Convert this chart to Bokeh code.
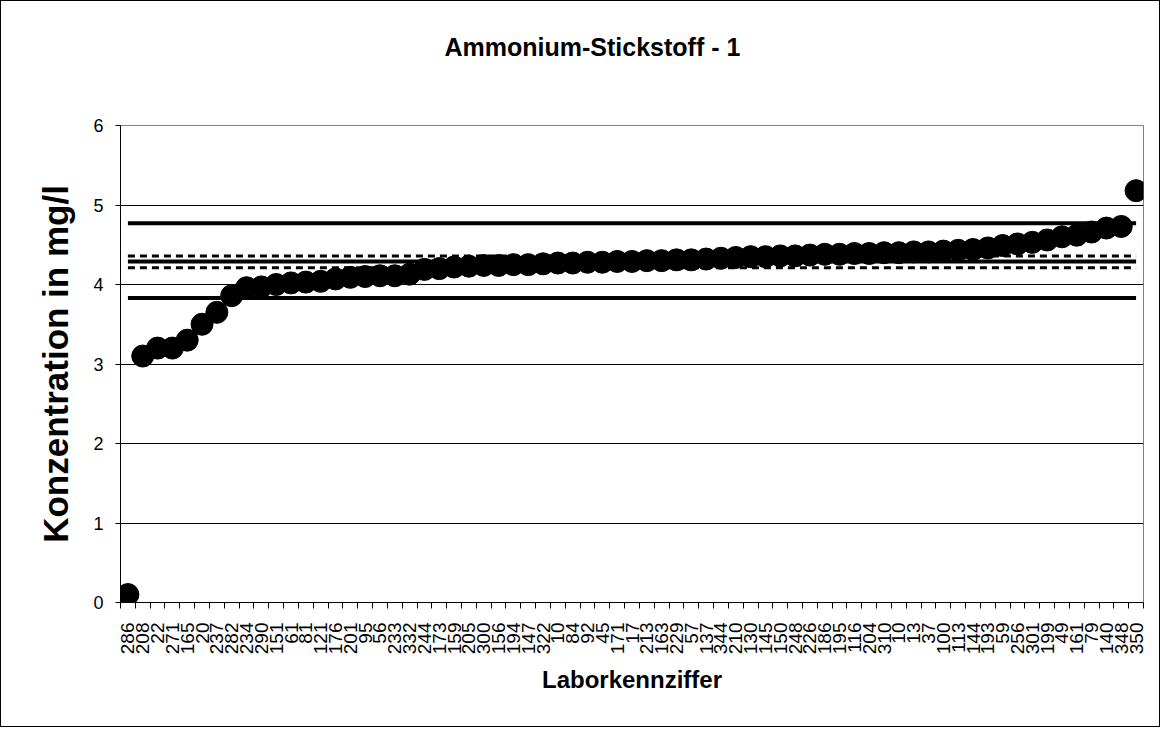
import math
from bokeh.plotting import figure
from bokeh.models import FixedTicker, Range1d, ColumnDataSource, Title
from bokeh.embed import file_html
from bokeh.resources import INLINE

# ---- data -------------------------------------------------------------
labs = ["286", "208", "22", "271", "165", "20", "237", "282", "234", "290",
        "151", "61", "81", "121", "176", "201", "95", "56", "233", "332",
        "244", "173", "159", "205", "300", "156", "194", "147", "322", "10",
        "84", "92", "45", "171", "17", "213", "163", "229", "57", "137",
        "344", "210", "130", "145", "150", "248", "226", "186", "195",
        "116", "204", "310", "10", "13", "37", "100", "113", "144", "193",
        "59", "256", "301", "199", "49", "161", "79", "140", "348", "350"]
values = [0.10, 3.10, 3.20, 3.20, 3.30, 3.50, 3.65, 3.86, 3.96, 3.97,
          4.00, 4.02, 4.03, 4.04, 4.07, 4.09, 4.10, 4.11, 4.11, 4.13,
          4.19, 4.20, 4.22, 4.23, 4.24, 4.24, 4.25, 4.25, 4.26, 4.27,
          4.27, 4.28, 4.28, 4.29, 4.29, 4.30, 4.30, 4.31, 4.31, 4.32,
          4.33, 4.34, 4.35, 4.35, 4.36, 4.36, 4.37, 4.38, 4.38, 4.39,
          4.39, 4.40, 4.40, 4.41, 4.41, 4.42, 4.43, 4.44, 4.46, 4.49,
          4.51, 4.53, 4.56, 4.60, 4.62, 4.66, 4.71, 4.73, 5.18]
upper_limit = 4.77
lower_limit = 3.83
mean_value = 4.29
mean_upper = 4.36
mean_lower = 4.21
y_ticks = [0, 1, 2, 3, 4, 5, 6]
title_text = "Ammonium-Stickstoff - 1"

n = len(values)
xs = [i + 0.5 for i in range(n)]
tick_map = {x: l for x, l in zip(xs, labs)}

FONT = "Liberation Sans"

p = figure(width=1160, height=727, output_backend="svg", toolbar_location=None,
           x_range=Range1d(0, n), y_range=Range1d(0, 6),
           min_border_left=119, min_border_right=18,
           min_border_top=124, min_border_bottom=126)
p.styles = {"border": "1px solid black"}
p.background_fill_color = "white"
p.border_fill_color = "white"
p.outline_line_color = "#808080"
p.outline_line_width = 1

# real title (outer), spacer title stacked next to the frame
p.title.text = title_text
p.title.text_font = FONT
p.title.text_font_size = "25px"
p.title.text_font_style = "bold"
p.title.text_color = "black"
p.title.align = "left"
p.title.offset = 324
p.title.standoff = 0
p.add_layout(Title(text=" ", text_font_size="1px", standoff=62), "above")

# grid
p.xgrid.visible = False
p.ygrid.grid_line_color = "black"
p.ygrid.grid_line_width = 1
p.ygrid.ticker = FixedTicker(ticks=y_ticks)

# y axis
p.yaxis.ticker = FixedTicker(ticks=y_ticks)
p.yaxis.axis_line_color = "black"
p.yaxis.major_tick_line_color = "black"
p.yaxis.major_tick_out = 5
p.yaxis.major_tick_in = 0
p.yaxis.minor_tick_line_color = None
p.yaxis.major_label_text_font = FONT
p.yaxis.major_label_text_font_size = "18px"
p.yaxis.major_label_text_color = "black"
p.yaxis.major_label_standoff = 12
p.yaxis.axis_label = "Konzentration in mg/l"
p.yaxis.axis_label_text_font = FONT
p.yaxis.axis_label_text_font_size = "35px"
p.yaxis.axis_label_text_font_style = "bold"
p.yaxis.axis_label_text_color = "black"
p.yaxis.axis_label_standoff = 15

# x axis
p.xaxis.ticker = FixedTicker(ticks=xs, minor_ticks=list(range(n + 1)))
p.xaxis.major_label_overrides = tick_map
p.xaxis.major_label_orientation = math.pi / 2
p.xaxis.axis_line_color = "black"
p.xaxis.major_tick_out = 0
p.xaxis.major_tick_in = 0
p.xaxis.minor_tick_out = 6
p.xaxis.minor_tick_in = 0
p.xaxis.minor_tick_line_color = "black"
p.xaxis.major_label_text_font = FONT
p.xaxis.major_label_text_font_size = "19px"
p.xaxis.major_label_text_color = "black"
p.xaxis.major_label_standoff = 14
p.xaxis.axis_label = "Laborkennziffer"
p.xaxis.axis_label_text_font = FONT
p.xaxis.axis_label_text_font_size = "24px"
p.xaxis.axis_label_text_font_style = "bold"
p.xaxis.axis_label_text_color = "black"
p.xaxis.axis_label_standoff = 9

# reference lines
x_ends = [xs[0], xs[-1]]
p.line(x_ends, [upper_limit] * 2, line_color="black", line_width=4)
p.line(x_ends, [lower_limit] * 2, line_color="black", line_width=4)
p.line(x_ends, [mean_value] * 2, line_color="black", line_width=4)
p.line(x_ends, [mean_upper] * 2, line_color="black", line_width=3, line_dash="7 5")
p.line(x_ends, [mean_lower] * 2, line_color="black", line_width=3, line_dash="7 5")

src = ColumnDataSource(dict(x=xs, y=values, lab=labs))
p.scatter("x", "y", source=src, size=22, fill_color="black", line_color="black")

open("out.html", "w").write(file_html(p, INLINE))
